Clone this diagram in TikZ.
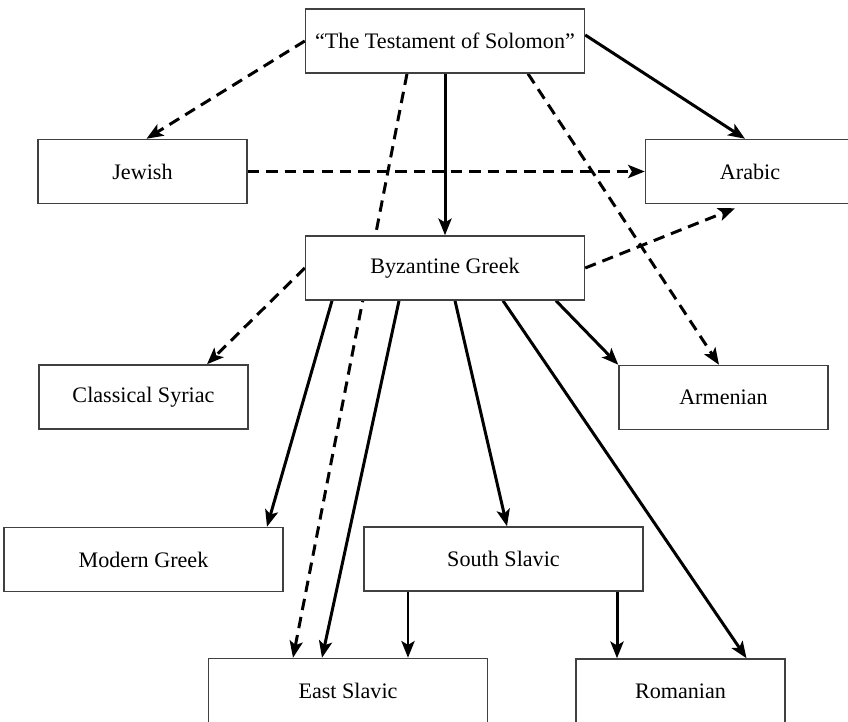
\documentclass[tikz,border=0pt]{standalone}
\usepackage{fontspec}
\setmainfont{Liberation Serif}
\usetikzlibrary{arrows.meta, calc, backgrounds}

\begin{document}
\begin{tikzpicture}[x=0.02cm,y=-0.02cm,>={Stealth[length=9.5pt,width=7.5pt,inset=2.2pt]},lang/.style={draw=black!75, line width=0.85pt, fill=white, minimum height=1.28cm, inner sep=0pt, font=\fontsize{12.6}{15}\selectfont},wide/.style={lang, minimum width=5.58cm},narrow/.style={lang, minimum width=4.18cm},link/.style={->, line width=1.7pt},maybe/.style={link, dash pattern=on 6.5pt off 4pt}]
\useasboundingbox (0,0) rectangle (848,722);
\node[wide] (testament) at (445,41) {“The Testament of Solomon”};
\node[narrow] (jewish) at (142.5,171.5) {Jewish}; \node[narrow] (arabic) at (750,171.5) {Arabic};
\node[wide] (byz) at (445,268) {Byzantine Greek};
\node[narrow] (syriac) at (143.5,397) {Classical Syriac}; \node[narrow] (armenian) at (723.5,397.5) {Armenian};
\node[wide] (modern) at (143.5,559.5) {Modern Greek}; \node[wide] (south) at (503.5,559) {South Slavic};
\node[wide] (east) at (348,690.5) {East Slavic}; \node[narrow] (romanian) at (680.5,691) {Romanian};
\begin{scope}[on background layer]
\draw[maybe] (testament.west) -- ($(jewish.north)+(4,0)$);
\draw[link] ($(testament.east)+(0,-6)$) -- ($(arabic.north)+(-5,0)$);
\draw[link] (testament) -- (byz);
\draw[maybe] ($(testament.south)+(-38,0)$) -- ($(east.north)+(-55,0)$);
\draw[maybe] ($(testament.south)+(83,0)$) -- ($(armenian.north)+(-4.5,0)$);
\draw[maybe] (jewish) -- (arabic);
\draw[maybe] (byz.east) -- ($(arabic.south)+(-15,4)$);
\draw[maybe] (byz.west) -- ($(syriac.north)+(63.5,0)$);
\draw[link] ($(byz.south)+(111,0)$) -- (armenian.north west);
\draw[link] ($(byz.south)+(-113,0)$) -- ($(modern.north)+(123.5,0)$);
\draw[link] ($(byz.south)+(-46,0)$) -- ($(east.north)+(-26,0)$);
\draw[link] ($(byz.south)+(10,0)$) -- ($(south.north)+(3.5,0)$);
\draw[link] ($(byz.south)+(58,0)$) -- ($(romanian.north)+(66,0)$);
\coordinate (s1) at ($(south.south)+(-95.5,0)$); \coordinate (s2) at ($(south.south)+(113.5,0)$);
\draw[link] (s1) -- (s1 |- east.north); \draw[link] (s2) -- (s2 |- romanian.north);
\end{scope}
\end{tikzpicture}
\end{document}
